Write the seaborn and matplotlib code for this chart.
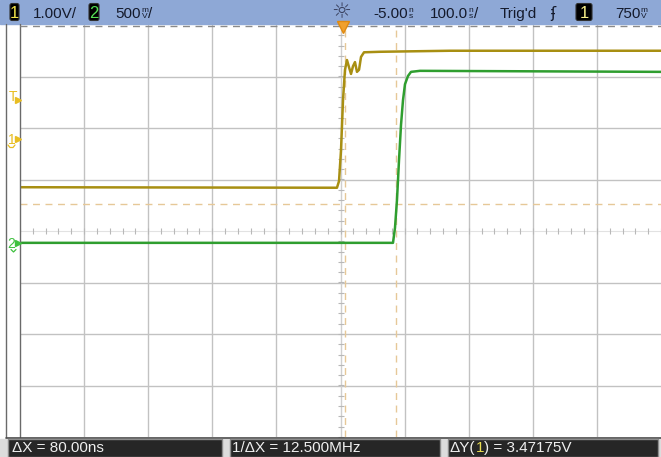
import matplotlib
matplotlib.use('Agg')
import matplotlib.pyplot as plt
import seaborn as sns
import pandas as pd
import numpy as np
from matplotlib.patches import Rectangle, FancyBboxPatch

# ---------------- data (time in ns, level in screen divisions) ----------------
ch1_time_ns = [-505, -10.5, -7.3, -4.2, -1.1, 2.0, 5.1, 8.3, 11.4, 14.5, 17.6, 20.7, 23.9, 27.0, 31.7, 56.6, 165.8, 495]
ch1_level_div = [0.85, 0.84, 0.97, 1.57, 2.54, 3.13, 3.32, 3.18, 3.05, 3.20, 3.28, 3.09, 3.13, 3.38, 3.47, 3.48, 3.50, 3.50]
ch2_time_ns = [-505, 76.9, 80.0, 83.1, 86.3, 89.4, 92.5, 95.6, 100.3, 105.0, 119.0, 495]
ch2_level_div = [-0.23, -0.23, 0.06, 0.60, 1.38, 2.06, 2.54, 2.85, 3.01, 3.09, 3.11, 3.09]

grid_x_ns = [-405, -305, -205, -105, 95, 195, 295, 395]
grid_y_div = [-3, -2, -1, 1, 2, 3]
center_x_ns = -5
cursor_x_ns = [2, 82]
cursor_y_div = 0.52

top_labels = ["1.00V/", "500", "-5.00", "100.0", "Trig'd", "750"]
bottom_labels = ["ΔX = 80.00ns", "1/ΔX = 12.500MHz", "ΔY(", "1", ") = 3.47175V"]

FONT = ['Liberation Sans Narrow', 'Liberation Sans', 'DejaVu Sans']
YEL = '#a88f12'
GRN = '#2f9e2f'
FS = 11

W, H = 661, 457
sns.set_style('white')
plt.rcParams['font.family'] = FONT
fig = plt.figure(figsize=(W / 100, H / 100), dpi=100)
fig.patch.set_facecolor('white')

ax = fig.add_axes([20 / W, (H - 437) / H, 641 / W, 412 / H])
ax.set_xlim(-505, 495)
ax.set_ylim(-4, 4)
ax.set_xticks([]); ax.set_yticks([])
for s in ax.spines.values():
    s.set_visible(False)

gcol = '#c2c2c2'
for gx in grid_x_ns:
    ax.axvline(gx, color=gcol, lw=1.0, zorder=1)
for gy in grid_y_div:
    ax.axhline(gy, color=gcol, lw=1.0, zorder=1)
ax.axvline(center_x_ns, color='#cfcfcf', lw=1.0, zorder=1)
ax.axhline(0, color='#e2e2e2', lw=0.8, zorder=1)
# minor ticks on the centre lines
tx = np.arange(-505, 496, 20)
ax.plot(tx, np.zeros_like(tx, dtype=float), ls='', marker='|', ms=5, mew=0.8, color='#b8b8b8', zorder=1)
ty = np.arange(-4, 4.01, 0.2)
ax.plot(np.full_like(ty, center_x_ns), ty, ls='', marker='_', ms=5, mew=0.8, color='#b8b8b8', zorder=1)

# cursors
for cx in cursor_x_ns:
    ax.axvline(cx, color='#e6c898', lw=1.0, ls=(0, (5, 4)), zorder=2)
ax.axhline(cursor_y_div, color='#e6c898', lw=1.0, ls=(0, (5, 4)), zorder=2)

df = pd.concat([
    pd.DataFrame({'t': ch1_time_ns, 'v': ch1_level_div, 'ch': '1'}),
    pd.DataFrame({'t': ch2_time_ns, 'v': ch2_level_div, 'ch': '2'}),
])
sns.lineplot(data=df, x='t', y='v', hue='ch', palette={'1': YEL, '2': GRN},
             estimator=None, sort=False, legend=False, lw=1.8, ax=ax, zorder=4)
ax.set_xlabel(''); ax.set_ylabel('')

# ---------------- overlay in pixel coordinates ----------------
ov = fig.add_axes([0, 0, 1, 1], zorder=5)
ov.set_xlim(0, W); ov.set_ylim(H, 0)
ov.axis('off')
ov.patch.set_alpha(0)

# left strip borders and bottom line
ov.plot([6, 6], [24, 437], color='#6a6a6a', lw=1.0)
ov.plot([20, 20], [24, 437], color='#6a6a6a', lw=1.0)
ov.plot([6, 661], [437.5, 437.5], color='#4a4a4a', lw=1.2)

# top bar
ov.add_patch(Rectangle((0, 0), W, 23.5, color='#8ea8d6', zorder=1))
ov.plot([20, 661], [25.5, 25.5], color='#8a8a8a', lw=1.0, ls=(0, (5, 4)), zorder=2)

renderer = fig.canvas.get_renderer()

def put(x, y, s, size=FS, color='#141a2c', **kw):
    t = ov.text(x, y, s, fontsize=size, color=color, va='baseline', ha='left', zorder=6, **kw)
    bb = t.get_window_extent(renderer=renderer)
    return x + bb.width

def unit(x, y, top, bot, color='#141a2c'):
    ov.text(x, y - 6.5, top, fontsize=6, color=color, va='baseline', ha='left', zorder=6)
    t = ov.text(x + 0.5, y, bot, fontsize=6, color=color, va='baseline', ha='left', zorder=6)
    return x + t.get_window_extent(renderer=renderer).width + 1

def chbox(x0, x1, label, color):
    ov.add_patch(FancyBboxPatch((x0, 3.5), x1 - x0, 17, boxstyle='round,pad=0,rounding_size=2',
                                fc='black', ec='#303030', lw=0.8, zorder=5))
    ov.text((x0 + x1) / 2, 18, label, fontsize=FS + 1, color=color, ha='center', va='baseline', zorder=6)

base = 18
chbox(10, 19, '1', '#f2e34a')
put(33, base, top_labels[0])
chbox(89, 99, '2', '#55e055')
x = put(115, base, top_labels[1])
x = unit(x + 0.5, base, 'm', 'V')
put(x, base, '/')
ov.text(341, 18, '☼', fontsize=16, color='#3a4260', ha='center', va='baseline', family=['DejaVu Sans'], zorder=6)
x = put(373, base, top_labels[2])
unit(x + 0.5, base, 'n', 's')
x = put(430, base, top_labels[3])
x = unit(x + 0.5, base, 'n', 's')
put(x, base, '/')
put(500, base, top_labels[4])
ov.text(553, base, 'ʄ', fontsize=11, color='#141a2c', ha='center', va='baseline', family=['DejaVu Sans'], zorder=6)
chbox(576, 592, '1', '#f8f08a')
x = put(615, base, top_labels[5])
unit(x + 0.5, base, 'm', 'V')

# trigger position marker
ov.plot([343], [26.5], marker='v', ms=9, color='#f0a02c', mec='#e08a10', zorder=7)

# left channel markers
ov.text(9, 101, 'T', fontsize=10, color='#e8bd22', ha='left', va='baseline', zorder=6)
ov.plot([17.5], [100], marker='>', ms=5, color='#e8bd22', zorder=6)
ov.text(8, 144, '1', fontsize=10, color='#e8bd22', ha='left', va='baseline', zorder=6)
ov.plot([17.5], [139], marker='>', ms=5, color='#e8bd22', zorder=6)
ov.plot([8, 10, 13, 15], [145, 147.5, 147.5, 145], color='#e8bd22', lw=0.9, zorder=6)
ov.text(7, 248, '2', fontsize=10, color='#3fc03f', ha='left', va='baseline', zorder=6)
ov.plot([17.5], [243], marker='>', ms=5, color='#3fc03f', zorder=6)
ov.plot([11, 13.5, 16], [249.5, 252, 249.5], color='#3fc03f', lw=0.9, zorder=6)

# bottom bar
ov.add_patch(Rectangle((0, 438.5), W, H - 438.5, color='#dcdcdc', zorder=1))
for bx0, bx1 in [(8, 222), (230, 440), (448, 658)]:
    ov.add_patch(Rectangle((bx0, 438.5), bx1 - bx0, 18, fc='#262626', ec='#8c8c8c', lw=1.0, zorder=2))
bb = 452
wcol = '#efefef'
put(12, bb, bottom_labels[0], color=wcol)
put(232, bb, bottom_labels[1], color=wcol)
x = put(450, bb, bottom_labels[2], color=wcol)
x = put(x, bb, bottom_labels[3], color='#e8dc50')
put(x, bb, bottom_labels[4], color=wcol)

fig.savefig('out.png', dpi=100)
